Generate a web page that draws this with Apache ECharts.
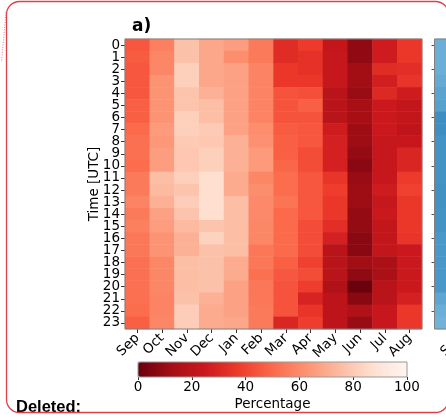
<!DOCTYPE html>
<html>
<head>
<meta charset="utf-8">
<script src="https://cdn.jsdelivr.net/npm/echarts@6/dist/echarts.min.js"></script>
<style>
  html, body { margin: 0; padding: 0; background: #fff; }
  #chart { width: 446px; height: 418px; }
</style>
</head>
<body>
<div id="chart"></div>
<script>
// Months on the x axis, hours (UTC) on the y axis
const months = ['Sep', 'Oct', 'Nov', 'Dec', 'Jan', 'Feb', 'Mar', 'Apr', 'May', 'Jun', 'Jul', 'Aug'];
const hours = ['0','1','2','3','4','5','6','7','8','9','10','11','12','13','14','15','16','17','18','19','20','21','22','23'];

// Percentage per hour (0..23) for each month
const sep = [45,46,45,45,45,47,47,50,52,52,51,55,55,58,55,57,54,54,52,52,52,52,51,47];
const oct = [57,59,59,63,63,63,63,65,64,66,66,76,75,72,67,66,63,63,59,59,59,58,58,59];
const nov = [77,77,82,82,78,78,82,82,80,79,79,82,78,81,78,75,72,72,76,76,76,77,81,81];
const dec = [69,69,69,69,72,76,76,80,79,82,82,87,87,87,87,78,83,77,77,77,77,72,70,70];
const jan = [66,61,67,67,67,67,67,67,72,72,72,70,70,76,76,76,76,76,70,70,67,67,67,69];
const feb = [55,55,58,58,58,58,58,61,62,65,65,59,61,60,60,59,59,54,54,52,54,54,55,55];
const mar = [32,32,36,36,44,44,44,46,47,47,49,51,51,53,50,50,50,50,47,45,44,44,44,30];
const apr = [37,34,34,36,43,47,44,45,45,42,42,45,45,45,45,42,42,42,39,42,38,29,35,38];
const may = [22,23,23,23,19,19,19,26,28,28,28,35,38,36,36,33,28,19,19,19,16,20,20,20];
const jun = [8,8,12,12,10,13,13,11,11,9,7,10,11,11,9,9,7,7,12,8,1,7,16,10];
const jul = [26,26,32,27,31,25,25,25,23,23,23,24,26,23,25,22,22,22,14,14,19,19,24,24];
const aug = [36,36,33,35,26,22,22,21,24,30,30,37,39,36,36,36,35,25,25,25,25,28,36,36];
const monthly = [sep, oct, nov, dec, jan, feb, mar, apr, may, jun, jul, aug];

// First column of the neighbouring (blue) panel
const nextPanelSep = [50,50,50,48,45,44,36,36,38,38,38,38,37,37,38,38,40,40,40,40,40,46,50,52];

// Colour bar ticks
const barTicks = [0, 20, 40, 60, 80, 100];

const reds = ['#67000d','#a50f15','#cb181d','#ef3b2c','#fb6a4a','#fc9272','#fcbba1','#fee0d2','#fff5f0'];
const blues = ['#08306b','#08519c','#2171b5','#4292c6','#6baed6','#9ecae1','#c6dbef','#deebf7','#f7fbff'];

const heatData = [];
monthly.forEach((col, m) => col.forEach((v, h) => heatData.push([m, h, v])));
const nextData = nextPanelSep.map((v, h) => [0, h, v]);

const FONT = 'DejaVu Sans';
const spine = '#808080';

const chart = echarts.init(document.getElementById('chart'), null, { renderer: 'canvas' });

chart.setOption({
  animation: false,
  backgroundColor: '#fff',
  title: [
    { text: 'a)', left: 132, top: 18, padding: 0,
      textStyle: { fontFamily: FONT, fontSize: 17, fontWeight: 'bold', color: '#000' } },
    { text: 'Deleted:', left: 16, top: 399, padding: 0,
      textStyle: { fontFamily: 'Liberation Sans', fontSize: 16.5, fontWeight: 'bold', color: '#000' } }
  ],
  grid: [
    { left: 125, top: 39, width: 297, height: 290, show: true, z: 10, outerBoundsMode: 'none',
      backgroundColor: 'transparent', borderColor: spine, borderWidth: 1 },
    { left: 434.5, top: 39, width: 636, height: 290, show: true, z: 10, outerBoundsMode: 'none',
      backgroundColor: 'transparent', borderColor: spine, borderWidth: 1 },
    { left: 138, top: 362, width: 269, height: 15, show: true, z: 10, outerBoundsMode: 'none',
      backgroundColor: 'transparent', borderColor: '#999', borderWidth: 1 }
  ],
  xAxis: [
    { type: 'category', gridIndex: 0, data: months,
      axisLine: { show: false },
      axisTick: { show: true, alignWithLabel: true, length: 4, lineStyle: { color: '#333' } },
      axisLabel: { interval: 0, rotate: 45, margin: 7, fontFamily: FONT, fontSize: 13.5, color: '#000' },
      splitLine: { show: false } },
    { type: 'category', gridIndex: 1, data: months,
      axisLine: { show: false },
      axisTick: { show: true, alignWithLabel: true, length: 4, lineStyle: { color: '#333' } },
      axisLabel: { interval: 0, rotate: 45, margin: 7, fontFamily: FONT, fontSize: 13.5, color: '#000' },
      splitLine: { show: false } },
    { type: 'value', gridIndex: 2, min: 0, max: 100, interval: 20,
      axisLine: { show: false },
      axisTick: { show: true, length: 3, lineStyle: { color: '#333' } },
      axisLabel: { margin: 3, fontFamily: FONT, fontSize: 13.5, color: '#000',
        formatter: v => barTicks.includes(v) ? String(v) : '' },
      splitLine: { show: false },
      name: 'Percentage', nameLocation: 'middle', nameGap: 20, nameMoveOverlap: false,
      nameTextStyle: { fontFamily: FONT, fontSize: 13.5, color: '#000' } }
  ],
  yAxis: [
    { type: 'category', gridIndex: 0, data: hours, inverse: true,
      axisLine: { show: false },
      axisTick: { show: true, alignWithLabel: true, length: 4, lineStyle: { color: '#333' } },
      axisLabel: { interval: 0, margin: 5, fontFamily: FONT, fontSize: 13.5, color: '#000', lineHeight: 12 },
      splitLine: { show: false },
      name: 'Time [UTC]', nameLocation: 'middle', nameGap: 24, nameRotate: 90, nameMoveOverlap: false,
      nameTextStyle: { fontFamily: FONT, fontSize: 13.5, color: '#000' } },
    { type: 'category', gridIndex: 1, data: hours, inverse: true,
      axisLine: { show: false },
      axisTick: { show: true, alignWithLabel: true, length: 3, lineStyle: { color: '#555' } },
      axisLabel: { show: false },
      splitLine: { show: false } },
    { type: 'value', gridIndex: 2, min: 0, max: 1, show: false }
  ],
  visualMap: [
    { type: 'continuous', seriesIndex: 0, min: 0, max: 100, orient: 'horizontal',
      left: 138, top: 362, itemWidth: 15, itemHeight: 269, padding: 0,
      calculable: false, hoverLink: false, realtime: false,
      inRange: { color: reds } },
    { type: 'continuous', seriesIndex: 1, min: 0, max: 100, show: false,
      inRange: { color: blues } }
  ],
  series: [
    { type: 'heatmap', xAxisIndex: 0, yAxisIndex: 0, data: heatData,
      emphasis: { disabled: true }, itemStyle: { borderWidth: 0 } },
    { type: 'heatmap', xAxisIndex: 1, yAxisIndex: 1, data: nextData,
      emphasis: { disabled: true }, itemStyle: { borderWidth: 0 } }
  ],
  graphic: [
    { type: 'rect', z: 100, silent: true,
      shape: { x: 6.5, y: 1.5, width: 442, height: 411, r: 13 },
      style: { fill: 'none', stroke: '#dc4148', lineWidth: 1.3 } },
    { type: 'polyline', z: 100, silent: true,
      shape: { points: [[6, 12], [4, 35], [1.5, 62]] },
      style: { fill: 'none', stroke: '#e57c82', lineWidth: 1, lineDash: [1, 1.5] } }
  ]
});
</script>
</body>
</html>
